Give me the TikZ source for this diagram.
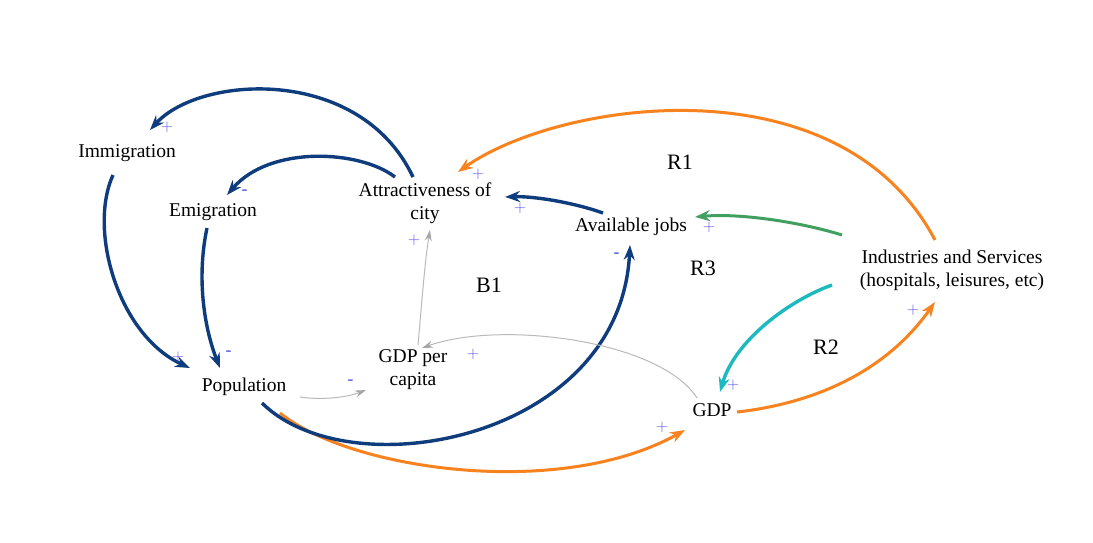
\documentclass[tikz,border=0pt]{standalone}
\usepackage{fontspec}
\setmainfont{Liberation Serif}
\usetikzlibrary{arrows.meta,calc}
\definecolor{cldblue}{RGB}{15,60,125}
\definecolor{cldorange}{RGB}{247,130,30}
\definecolor{cldgreen}{RGB}{65,160,95}
\definecolor{cldteal}{RGB}{28,185,190}
\definecolor{cldgray}{RGB}{185,185,185}
\definecolor{cldsign}{RGB}{95,80,235}
\definecolor{cldminus}{RGB}{45,60,210}
\tikzset{
  var/.style={inner sep=0pt, align=center, font=\fontsize{19.5}{23}\selectfont},
  looplbl/.style={inner sep=0pt, font=\fontsize{22}{26}\selectfont},
  sgn/.style={inner sep=0pt, text=cldsign, font=\fontsize{17}{17}\sffamily},
  msgn/.style={inner sep=0pt, text=cldminus, font=\fontsize{17}{17}\sffamily\bfseries},
  bluelink/.style={draw=cldblue, line width=3.4pt, -{Stealth[length=15pt,width=11pt,inset=5pt]}},
  orangelink/.style={draw=cldorange, line width=3pt, -{Stealth[length=15pt,width=11pt,inset=5pt]}},
  greenlink/.style={draw=cldgreen, line width=3pt, -{Stealth[length=15pt,width=11pt,inset=5pt]}},
  teallink/.style={draw=cldteal, line width=3.4pt, -{Stealth[length=15pt,width=11pt,inset=5pt]}},
  graylink/.style={draw=cldgray, line width=1pt, -{Stealth[length=11pt,width=7pt,color=gray!70]}},
}
\begin{document}
\begin{tikzpicture}[x=1pt,y=-1pt]
\useasboundingbox (0,0) rectangle (1093,542);
% variables
\node[var] (imm) at (127,153) {Immigration};
\node[var] (emi) at (213,212) {Emigration};
\node[var] (att) at (425,203) {Attractiveness of\\city};
\node[var] (job) at (631,227) {Available jobs};
\node[var] (ind) at (952,270) {Industries and Services\\(hospitals, leisures, etc)};
\node[var] (gdp) at (712,410) {GDP};
\node[var] (pop) at (244,387) {Population};
\node[var] (gpc) at (413,370) {GDP per\\capita};
% loop labels
\node[looplbl] (r1) at (680,162) {R1};
\node[looplbl] (r3) at (703,268) {R3};
\node[looplbl] (b1) at (489,285) {B1};
\node[looplbl] (r2) at (826,347) {R2};
% links
\draw[bluelink] ($(att)+(-12,-26)$) .. controls (360,65) and (200,75) .. ($(imm)+(23,-23)$);
\draw[bluelink] ($(att)+(-30,-26)$) .. controls (360,150) and (270,145) .. ($(emi)+(14,-17)$);
\draw[bluelink] ($(imm)+(-14,22)$) .. controls (88,230) and (118,335) .. ($(pop)+(-54,-19)$);
\draw[bluelink] ($(emi)+(-6,16)$) .. controls (196,280) and (205,330) .. ($(pop)+(-24,-19)$);
\draw[bluelink] ($(job)+(-28,-14)$) .. controls (575,203) and (535,196) .. ($(att)+(80,-6)$);
\draw[greenlink] ($(ind)+(-110,-35)$) .. controls (800,222) and (740,213) .. ($(job)+(64,-10)$);
\draw[orangelink] ($(ind)+(-17,-30)$) .. controls (840,60) and (560,100) .. ($(att)+(33,-31)$);
\draw[teallink] ($(ind)+(-120,15)$) .. controls (790,300) and (735,340) .. ($(gdp)+(8,-18)$);
\draw[orangelink] ($(gdp)+(25,2)$) .. controls (800,405) and (880,380) .. ($(ind)+(-17,32)$);
\draw[orangelink] ($(pop)+(36,26)$) .. controls (350,470) and (560,500) .. ($(gdp)+(-27,20)$);
\draw[bluelink] ($(pop)+(18,16)$) .. controls (350,490) and (620,440) .. ($(job)+(-1,18)$);
\draw[graylink] ($(pop)+(56,10)$) .. controls (320,400) and (345,398) .. ($(gpc)+(-47,20)$);
\draw[graylink] ($(gdp)+(-15,-12)$) .. controls (660,340) and (500,320) .. ($(gpc)+(9,-22)$);
\draw[graylink] ($(gpc)+(5,-25)$) .. controls (422,300) and (425,260) .. ($(att)+(5,27)$);
% polarity signs
\node[sgn] (s1) at (167,127) {+};
\node[msgn] (s2) at (245,192) {-};
\node[sgn] (s3) at (478,174) {+};
\node[sgn] (s4) at (520,208) {+};
\node[sgn] (s5) at (414,240) {+};
\node[sgn] (s6) at (709,227) {+};
\node[msgn] (s7) at (617,255) {-};
\node[sgn] (s8) at (178,357) {+};
\node[msgn] (s9) at (229,353) {-};
\node[msgn] (s10) at (351,382) {-};
\node[sgn] (s11) at (473,354) {+};
\node[sgn] (s12) at (733,385) {+};
\node[sgn] (s13) at (662,427) {+};
\node[sgn] (s14) at (913,310) {+};
\end{tikzpicture}
\end{document}
